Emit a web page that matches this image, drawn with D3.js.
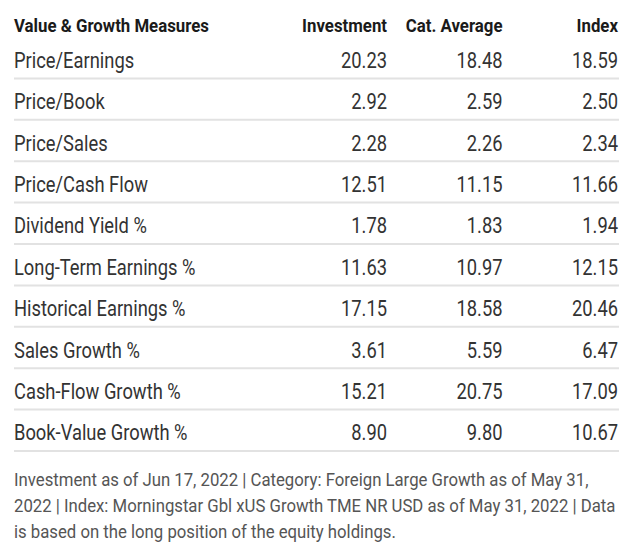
<!DOCTYPE html>
<html><head><meta charset="utf-8">
<script src="https://cdn.jsdelivr.net/npm/d3@7"></script>
<style>html,body{margin:0;padding:0;background:#fff;}svg{display:block;}</style>
</head><body>
<div id="chart"></div>
<script>
const headerLabel = "Value & Growth Measures";
const columns = ["Investment", "Cat. Average", "Index"];
const metrics = ["Price/Earnings","Price/Book","Price/Sales","Price/Cash Flow","Dividend Yield %","Long-Term Earnings %","Historical Earnings %","Sales Growth %","Cash-Flow Growth %","Book-Value Growth %"];
const investment = [20.23, 2.92, 2.28, 12.51, 1.78, 11.63, 17.15, 3.61, 15.21, 8.90];
const catAverage = [18.48, 2.59, 2.26, 11.15, 1.83, 10.97, 18.58, 5.59, 20.75, 9.80];
const indexVals = [18.59, 2.50, 2.34, 11.66, 1.94, 12.15, 20.46, 6.47, 17.09, 10.67];
const footerLines = [
  "Investment as of Jun 17, 2022 | Category: Foreign Large Growth as of May 31,",
  "2022 | Index: Morningstar Gbl xUS Growth TME NR USD as of May 31, 2022 | Data",
  "is based on the long position of the equity holdings."
];

const W = 640, H = 552;
const left = 14, right = 619;
const FONT = "Roboto, 'Liberation Sans', sans-serif";

const svg = d3.select("#chart").append("svg").attr("width", W).attr("height", H);

const y = d3.scaleBand().domain(metrics).range([37, 451]);
const x = d3.scalePoint().domain(columns).range([387, 618]);
const fmt = d3.format(".2f");

function txt(g, tx, ty, s, opts) {
  const gg = g.append("g").attr("transform", `translate(${tx},${ty}) scale(${opts.sx},1)`);
  return gg.append("text").text(s)
    .attr("font-family", FONT)
    .attr("font-size", opts.size)
    .attr("font-weight", opts.weight || 400)
    .attr("fill", opts.fill)
    .attr("text-anchor", opts.anchor || "start");
}

// header
const hdr = svg.append("g");
const hOpts = {size: 18.7, weight: 700, fill: "#1a1a1a", sx: 0.9};
txt(hdr, left, 31.7, headerLabel, hOpts);
columns.forEach(c => txt(hdr, x(c), 31.7, c, Object.assign({}, hOpts, {anchor: "end"})));

// rows
const rows = svg.append("g");
metrics.forEach((m, i) => {
  const yb = y(m) + y.bandwidth();
  rows.append("line").attr("x1", left).attr("x2", right).attr("y1", yb).attr("y2", yb)
    .attr("stroke", "#e2e2e2").attr("stroke-width", 2);
  txt(rows, left, yb - 10.6, m, {size: 22.5, fill: "#333", sx: 0.815});
  [investment, catAverage, indexVals].forEach((arr, j) => {
    txt(rows, x(columns[j]), yb - 10.6, fmt(arr[i]), {size: 22.5, fill: "#333", anchor: "end", sx: 0.815});
  });
});

// footer
const ft = svg.append("g");
footerLines.forEach((l, i) => txt(ft, left, 486 + i * 26.2, l, {size: 18.3, fill: "#555", sx: 0.915}));
</script>
</body></html>
